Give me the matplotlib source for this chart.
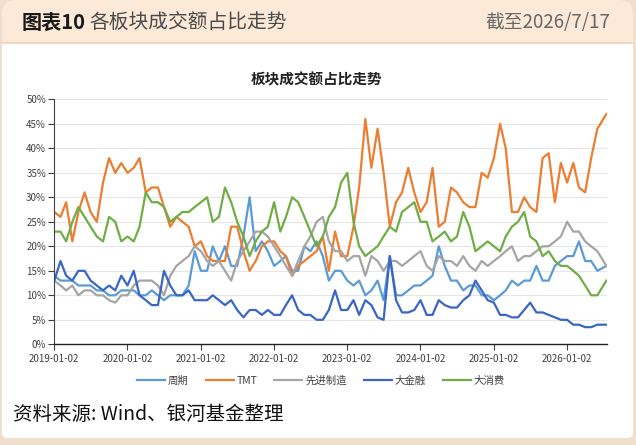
import matplotlib
matplotlib.use('Agg')
import matplotlib.pyplot as plt
import matplotlib.dates as mdates
from matplotlib.patches import FancyBboxPatch, Rectangle
from matplotlib.ticker import FuncFormatter, MultipleLocator
import pandas as pd

plt.rcParams['font.family'] = ['Noto Sans CJK SC', 'DejaVu Sans']

# monthly readings (%), 2019-01 .. 2026-07
zhouqi = [14, 13, 13, 13, 12, 12, 12, 11, 11, 10, 10, 11,
          11, 11, 10, 10, 11, 10, 9, 10, 10, 10, 12, 19,
          15, 15, 20, 17, 20, 16, 16, 22, 30, 19, 21, 19,
          16, 17, 18, 15, 15, 20, 19, 21, 18, 13, 15, 15,
          13, 12, 13, 10, 11, 13, 9, 18, 10, 10, 11, 12,
          12, 13, 14, 20, 16, 13, 13, 11, 12, 12, 10, 10,
          9, 10, 11, 13, 12, 13, 13, 16, 13, 13, 16, 17,
          18, 18, 21, 17, 17, 15, 16]
tmt = [27, 26, 29, 21, 27, 31, 27, 25, 33, 38, 35, 37,
       35, 36, 38, 31, 32, 32, 28, 24, 26, 25, 24, 20,
       21, 18, 17, 17, 17, 24, 24, 19, 15, 17, 20, 21,
       21, 19, 18, 14, 16, 17, 18, 19, 22, 15, 23, 18,
       18, 24, 32, 46, 36, 44, 35, 24, 29, 31, 36, 31,
       27, 29, 36, 24, 25, 32, 31, 29, 28, 28, 35, 34,
       38, 45, 40, 27, 27, 30, 28, 27, 38, 39, 29, 37,
       33, 37, 32, 31, 38, 44, 47]
xianjin = [13, 12, 11, 12, 10, 11, 11, 10, 10, 9, 8.5, 10,
           10, 12, 13, 13, 13, 12, 10, 14, 16, 17, 18, 20,
           19, 17, 16, 17, 15, 13, 17, 19, 21, 23, 23, 22,
           20, 18, 16, 14, 17, 20, 22, 25, 26, 21, 19, 19,
           17, 18, 18, 14, 18, 17, 15, 17, 17, 16, 17, 18,
           19, 16, 15, 18, 17, 17, 16, 18, 16, 15, 17, 16,
           17, 18, 19, 20, 17, 18, 18, 19, 20, 20, 21, 22,
           25, 23, 23, 21, 20, 19, 16]
jinrong = [13, 17, 14, 13, 15, 15, 13, 12, 11, 12, 11, 14,
           12, 15, 10, 9, 8, 8, 15, 12, 10, 10, 11, 9,
           9, 9, 10, 9, 8, 9, 7, 5.5, 7, 7, 6, 7,
           6, 6, 8, 10, 7, 6, 6, 5, 5, 7, 11, 7,
           7, 9, 6, 9, 8, 5.5, 5, 18, 9, 6.5, 6.5, 7,
           9, 6, 6, 9, 8, 7.5, 7.5, 9, 10, 13, 11, 9,
           8.5, 6, 6, 5.5, 5.5, 7, 8.5, 6.5, 6.5, 6, 5.5, 5,
           5, 4, 4, 3.5, 3.5, 4, 4]
xiaofei = [23, 23, 21, 25, 28, 26, 24, 22, 21, 26, 25, 21,
           22, 21, 24, 31, 29, 29, 28, 25, 26, 27, 27, 28,
           29, 30, 25, 26, 32, 29, 25, 22, 18, 21, 23, 24,
           29, 23, 26, 30, 29, 26, 23, 20, 22, 26, 28, 33,
           35, 25, 20, 18, 19, 20, 22, 24, 23, 27, 28, 29,
           25, 25, 21, 22, 23, 21, 22, 27, 24, 19, 20, 21,
           20, 19, 22, 24, 25, 27, 22, 21, 18, 19, 17, 16,
           16, 15, 14, 12, 10, 10, 13]

names = ['周期', 'TMT', '先进制造', '大金融', '大消费']
colors = ['#5b9bd5', '#ed7d31', '#a5a5a5', '#3a66c4', '#70ad47']

dates = list(pd.date_range('2019-01-01', '2026-07-01', freq='MS') + pd.Timedelta(days=1))
dates[-1] = pd.Timestamp('2026-07-17')
tick_dates = [pd.Timestamp(f'{y}-01-02') for y in range(2019, 2027)]

fig = plt.figure(figsize=(6.36, 4.45), dpi=100)
fig.patch.set_facecolor('#f1dfcd')

# card background
bg = fig.add_axes([0, 0, 1, 1])
bg.set_xlim(0, 636)
bg.set_ylim(445, 0)
bg.axis('off')
bg.add_patch(FancyBboxPatch((2, 0), 631, 438, boxstyle='round,pad=0,rounding_size=14',
                            facecolor='#fce9d8', edgecolor='none'))
bg.add_patch(Rectangle((2, 43), 631, 360, facecolor='white', edgecolor='none'))
bg.add_patch(FancyBboxPatch((2, 380), 631, 58, boxstyle='round,pad=0,rounding_size=5',
                            facecolor='white', edgecolor='none'))
bg.plot([2, 633], [42.7, 42.7], color='#f2d5bd', lw=1.3)

bg.text(22, 22.5, '图表10', fontsize=14.5, fontweight='bold', va='center', ha='left', color='#1a1a1a')
bg.text(89, 22.5, '各板块成交额占比走势', fontsize=14.2, va='center', ha='left', color='#4a4a4a')
bg.text(610, 22.5, '截至2026/7/17', fontsize=13.5, va='center', ha='right', color='#666666')
bg.text(317, 79, '板块成交额占比走势', fontsize=10.5, fontweight='bold', va='center', ha='center', color='#222222')
bg.text(13, 415, '资料来源: Wind、银河基金整理', fontsize=14, va='center', ha='left', color='#111111')

# chart
ax = fig.add_axes([54.3 / 636, 1 - 344.3 / 445, (607 - 54.3) / 636, (344.3 - 99.3) / 445])
series = [zhouqi, tmt, xianjin, jinrong, xiaofei]
for vals, name, c in zip(series, names, colors):
    ax.plot(dates, vals, color=c, lw=1.6, label=name)

ax.set_ylim(0, 50)
ax.set_xlim(pd.Timestamp('2019-01-02'), pd.Timestamp('2026-07-20'))
ax.yaxis.set_major_locator(MultipleLocator(5))
ax.yaxis.set_major_formatter(FuncFormatter(lambda v, p: f'{v:.0f}%'))
ax.set_xticks(tick_dates)
ax.xaxis.set_major_formatter(mdates.DateFormatter('%Y-%m-%d'))
ax.grid(axis='y', color='#e6e6e6', lw=0.8)
ax.set_axisbelow(True)
for s in ['top', 'right']:
    ax.spines[s].set_visible(False)
ax.spines['left'].set_color('#404040')
ax.spines['bottom'].set_color('#222222')
ax.spines['bottom'].set_linewidth(1.0)
ax.tick_params(axis='y', labelsize=7, colors='#404040', length=4, width=0.8, pad=2)
ax.tick_params(axis='x', labelsize=7, colors='#404040', length=4, width=0.8, pad=3)
ax.set_facecolor('none')

leg = fig.legend(loc='center', bbox_to_anchor=(321 / 636, 1 - 381 / 445), ncol=5, frameon=False,
                 fontsize=7.5, handlelength=2.7, columnspacing=1.6, handletextpad=0.3)
for t in leg.get_texts():
    t.set_color('#404040')

fig.savefig('out.png', dpi=100, facecolor=fig.get_facecolor())
